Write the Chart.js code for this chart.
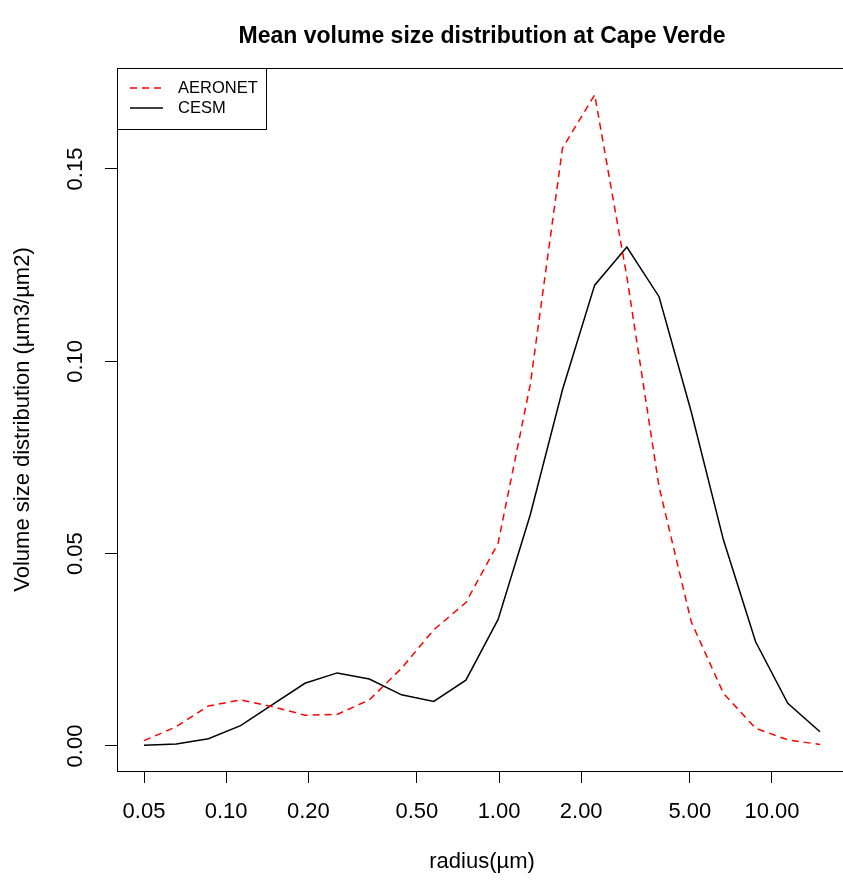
<!DOCTYPE html>
<html>
<head>
<meta charset="utf-8">
<script src="https://cdn.jsdelivr.net/npm/chart.js@4"></script>
<style>
  html, body { margin: 0; padding: 0; background: #fff; overflow: hidden; }
  #wrap { width: 850px; height: 883px; }
</style>
</head>
<body>
<div id="wrap"><canvas id="c" width="850" height="883"></canvas></div>
<script>
// AERONET size bins (radius, um)
const radius = [0.05, 0.065604, 0.086077, 0.112939, 0.148184, 0.194429, 0.255105, 0.334716,
  0.439173, 0.576227, 0.756052, 0.991996, 1.301571, 1.707757, 2.240702, 2.939966,
  3.857452, 5.06126, 6.640745, 8.713145, 11.432287, 15.0];

// mean volume size distribution (um3/um2)
const aeronet = [0.0014, 0.0050, 0.0104, 0.0120, 0.0102, 0.0080, 0.0082, 0.0120,
  0.0202, 0.0302, 0.0373, 0.0527, 0.0940, 0.1554, 0.1693, 0.1220,
  0.0674, 0.0323, 0.0137, 0.0046, 0.0016, 0.0004];
const cesm = [0.0002, 0.0005, 0.0019, 0.0053, 0.0108, 0.0163, 0.0190, 0.0174,
  0.0133, 0.0116, 0.0171, 0.0329, 0.0601, 0.0926, 0.1198, 0.1297,
  0.1168, 0.0869, 0.0536, 0.0271, 0.0111, 0.0037];

const xTicks = [0.05, 0.1, 0.2, 0.5, 1, 2, 5, 10];
const yTicks = [0, 0.05, 0.1, 0.15];

const FONT = '"Liberation Sans", Arial, sans-serif';

const toPoints = (ys) => radius.map((r, i) => ({ x: r, y: ys[i] }));

// box around plot region, title, rotated y labels, legend
const rDecor = {
  id: 'rDecor',
  afterDraw(chart) {
    const { ctx, chartArea: a, scales } = chart;
    ctx.save();
    ctx.strokeStyle = '#000';
    ctx.lineWidth = 1;
    ctx.strokeRect(a.left + 0.5, a.top + 0.5, a.right - a.left, a.bottom - a.top);

    // title
    ctx.fillStyle = '#000';
    ctx.font = 'bold 23px ' + FONT;
    ctx.textAlign = 'center';
    ctx.textBaseline = 'middle';
    ctx.fillText('Mean volume size distribution at Cape Verde', (a.left + a.right) / 2, 37);

    // y tick labels, rotated like R
    ctx.font = '22px ' + FONT;
    scales.y.ticks.forEach((t) => {
      const y = scales.y.getPixelForValue(t.value);
      ctx.save();
      ctx.translate(76, y);
      ctx.rotate(-Math.PI / 2);
      ctx.fillText(t.value.toFixed(2), 0, 0);
      ctx.restore();
    });

    // legend
    const lx = a.left, ly = a.top;
    ctx.fillStyle = '#fff';
    ctx.fillRect(lx, ly, 149, 61);
    ctx.strokeRect(lx + 0.5, ly + 0.5, 149, 61);
    ctx.font = '16.5px ' + FONT;
    ctx.textAlign = 'left';
    chart.data.datasets.forEach((ds, i) => {
      const yy = ly + 20 + i * 20;
      ctx.strokeStyle = ds.borderColor;
      ctx.lineWidth = ds.borderWidth;
      ctx.setLineDash(ds.borderDash || []);
      ctx.beginPath();
      ctx.moveTo(lx + 13, yy);
      ctx.lineTo(lx + 46, yy);
      ctx.stroke();
      ctx.setLineDash([]);
      ctx.fillStyle = '#000';
      ctx.fillText(ds.label, lx + 61, yy);
    });
    ctx.restore();
  }
};

new Chart(document.getElementById('c'), {
  type: 'line',
  data: {
    datasets: [
      {
        label: 'AERONET',
        data: toPoints(aeronet),
        borderColor: '#ff0000',
        borderWidth: 1.5,
        borderDash: [7, 5],
        pointRadius: 0,
        tension: 0,
        fill: false
      },
      {
        label: 'CESM',
        data: toPoints(cesm),
        borderColor: '#000000',
        borderWidth: 1.5,
        pointRadius: 0,
        tension: 0,
        fill: false
      }
    ]
  },
  options: {
    responsive: false,
    animation: false,
    layout: { padding: { top: 68, right: 3, left: 0, bottom: 0 } },
    plugins: {
      legend: { display: false },
      title: { display: false },
      tooltip: { enabled: false }
    },
    scales: {
      x: {
        type: 'logarithmic',
        min: 0.03981,
        max: 18.84,
        afterBuildTicks: (s) => { s.ticks = xTicks.map((v) => ({ value: v })); },
        afterFit: (s) => { s.height = 112; },
        grid: { display: true, drawOnChartArea: false, drawTicks: true, tickLength: 12, color: '#000', tickColor: '#000' },
        border: { display: true, color: '#000', width: 1 },
        ticks: {
          color: '#000',
          font: { family: FONT, size: 22 },
          padding: 16,
          maxRotation: 0,
          minRotation: 0,
          autoSkip: false,
          callback: (v) => Number(v).toFixed(2)
        },
        title: {
          display: true,
          text: 'radius(\u00b5m)',
          color: '#000',
          font: { family: FONT, size: 22 },
          padding: { top: 0, bottom: 8 }
        }
      },
      y: {
        type: 'linear',
        min: -0.0065,
        max: 0.17625,
        afterBuildTicks: (s) => { s.ticks = yTicks.map((v) => ({ value: v })); },
        afterFit: (s) => { s.width = 117; },
        grid: { display: true, drawOnChartArea: false, drawTicks: true, tickLength: 12, color: '#000', tickColor: '#000' },
        border: { display: true, color: '#000', width: 1 },
        ticks: { display: false },
        title: {
          display: true,
          text: 'Volume size distribution (\u00b5m3/\u00b5m2)',
          color: '#000',
          font: { family: FONT, size: 22 },
          padding: { top: 10, bottom: 0 }
        }
      }
    }
  },
  plugins: [rDecor]
});
</script>
</body>
</html>
